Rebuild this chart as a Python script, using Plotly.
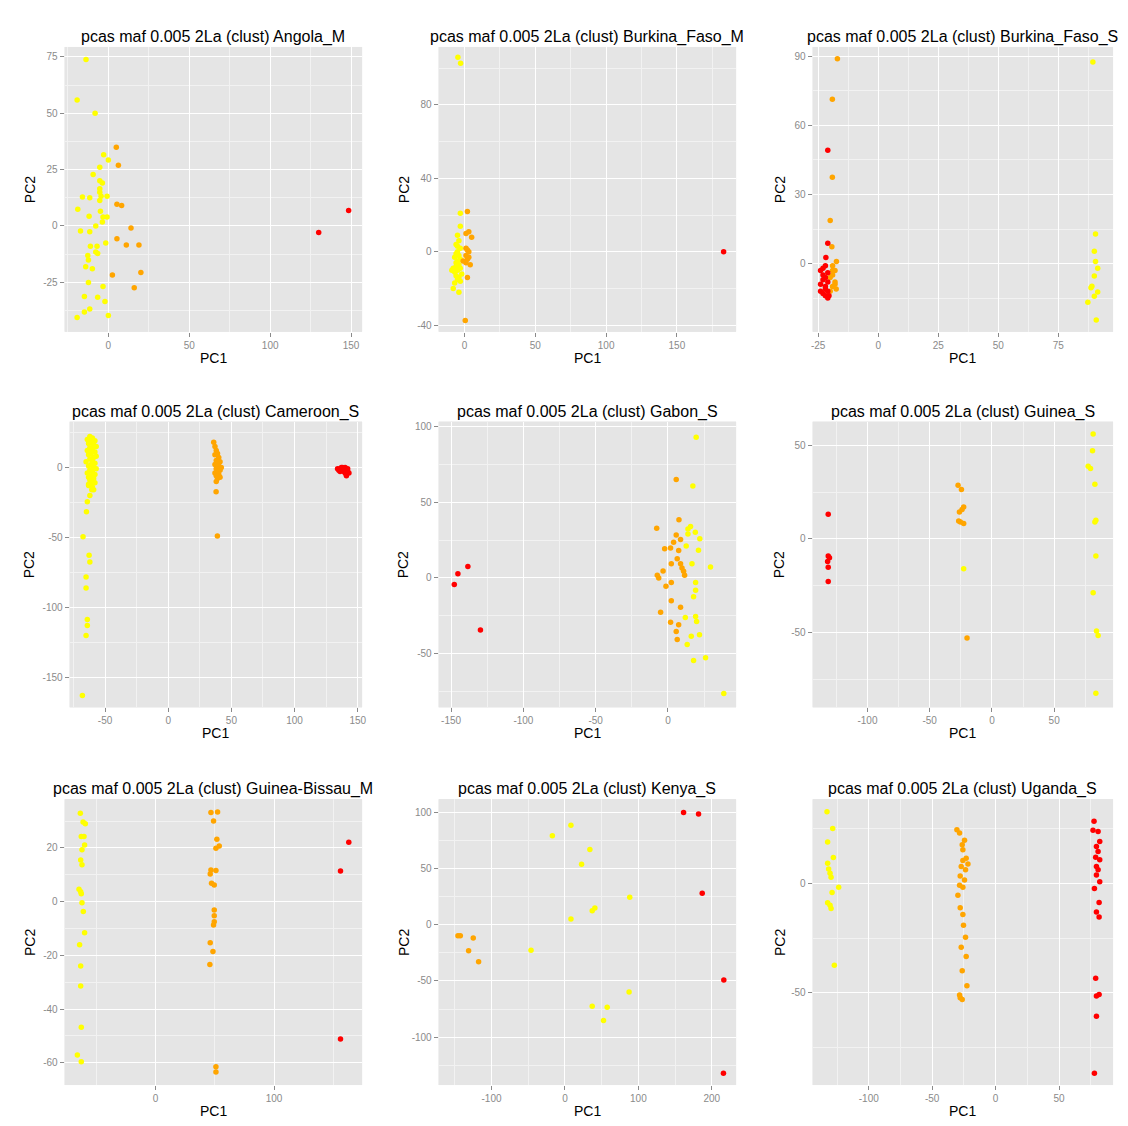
import math
import plotly.graph_objects as go

W, H = 1128, 1126

# ---------------- data (PC1, PC2) per panel and cluster ----------------
titles = [
    "pcas maf 0.005 2La (clust) Angola_M",
    "pcas maf 0.005 2La (clust) Burkina_Faso_M",
    "pcas maf 0.005 2La (clust) Burkina_Faso_S",
    "pcas maf 0.005 2La (clust) Cameroon_S",
    "pcas maf 0.005 2La (clust) Gabon_S",
    "pcas maf 0.005 2La (clust) Guinea_S",
    "pcas maf 0.005 2La (clust) Guinea-Bissau_M",
    "pcas maf 0.005 2La (clust) Kenya_S",
    "pcas maf 0.005 2La (clust) Uganda_S",
]

angola_yellow = [(-13.8, 73.8), (-19.3, 55.9), (-8.2, 50), (-2.9, 31.6), (0, 29.3), (-5.3, 26),
                 (-9.4, 22.8), (-5.3, 20.1), (-3.7, 19.1), (-5.3, 16.5), (-5.3, 15), (-16, 12.8),
                 (-11.5, 12.5), (-4.5, 13.2), (-0.8, 13.2), (-5.3, 11.3), (-18.9, 7.4), (-4.9, 6.5),
                 (-3.3, 4), (-0.8, 4), (-11.9, 4.3), (-7.8, 0), (-3.7, 1.8), (-17.2, -2.2),
                 (-11.5, -2.6), (-1.6, -7.5), (-11.1, -9), (-7.0, -9), (-7.8, -11.5), (-6.6, -12.2),
                 (-12.7, -13.1), (-12.3, -15.1), (-14, -18.1), (-9.9, -19), (-12.3, -25.1),
                 (-3.3, -26.9), (-14.8, -31.3), (-6.6, -31.6), (-2.1, -33.5), (-11.5, -36.8),
                 (-14.8, -38.2), (0, -39.7), (-19.3, -40.6)]
angola_orange = [(4.9, 34.9), (6.2, 26.9), (5.3, 9.6), (8.2, 9.1), (14, -0.9), (5.3, -5.7),
                 (11.1, -8.4), (18.9, -8.4), (2.5, -21.8), (20.1, -20.6), (16, -27.4)]
angola_red = [(130, -2.9), (148.5, 6.9)]

bfm_yellow = [(-4.7, 106), (-2.8, 102.7), (-3, 21), (-3, 14), (-5, 9), (-4, 6), (-6, 4), (-3, 2),
              (-5, 0), (-4, -2), (-7, -3), (-3, -4), (-5, -5), (-6, -6), (-4, -7), (-8, -9),
              (-3, -9), (-5, -10), (-7, -11), (-6, -13), (-4, -14), (-5, -15), (-7, -17),
              (-3, -16), (-8, -20), (-4, -22), (-6, -8), (-2, -12), (-9, -10), (-5, 3), (-6, -1)]
bfm_orange = [(2, 22), (1, 10), (5, 8), (3, 11), (1, 2), (3, 0), (1, -2), (2, -4), (4, -7),
              (1, -6), (2, -14), (-1, -5), (0.5, -37.4), (2, 1), (3, -3)]
bfm_red = [(183, 0)]

bfs_yellow = [(89.4, 87.6), (90.5, 12.9), (90, 5.3), (90.5, 0.9), (91.4, -2), (90, -5.4),
              (89, -9.8), (88.6, -10.5), (91.4, -12.3), (90, -14.2), (87.3, -16.8), (90.8, -24.5)]
bfs_orange = [(-17, 89), (-19.1, 71.4), (-19.1, 37.5), (-20, 18.7), (-19.3, 7.3), (-17.4, 0.9),
              (-19, -1), (-18, -3), (-19, -5), (-20, -6), (-18, -8), (-19, -10), (-17.5, -11),
              (-20, -12), (-19, -3), (-18, -9)]
bfs_red = [(-21, 49.2), (-21, 8.8), (-21.8, 2.6), (-23, -2), (-22, -1), (-24, -3), (-21, -4),
           (-22, -6), (-23, -7), (-21, -8), (-24, -9), (-22, -10), (-21, -12), (-23, -13),
           (-22, -14), (-21, -15), (-23, -5), (-22, -11), (-24, -12), (-20.5, -14)]

cam_yellow = [(-62, 22), (-60, 21), (-64, 20), (-58, 19), (-61, 18), (-63, 17), (-59, 16), (-57, 15),
              (-62, 14), (-60, 13), (-64, 12), (-58, 11), (-61, 10), (-63, 9), (-57, 8), (-59, 7),
              (-62, 6), (-60, 5), (-65, 4), (-58, 3), (-61, 2), (-63, 1), (-59, 0), (-57, -1),
              (-62, -2), (-60, -3), (-64, -4), (-58, -5), (-61, -6), (-63, -7), (-59, -8),
              (-62, -9), (-60, -10), (-58, -11), (-61, -12), (-63, -13), (-60, -14), (-59, -16),
              (-63, -12), (-60.5, -16), (-62, -20), (-64, -24.6), (-64.7, -31.7), (-67.4, -49.6),
              (-62.6, -62.8), (-62, -67.5), (-65, -78.3), (-65, -86.2), (-64, -108.6),
              (-64, -112.9), (-65, -120), (-67.9, -163)]
cam_orange = [(36, 18), (37, 15), (38, 12), (39, 10), (37, 9), (40, 7), (38, 5), (41, 4), (39, 3),
              (37, 2), (40, 1), (42, 0), (38, -1), (41, -2), (39, -3), (37, -4), (40, -5), (38, -6),
              (41, -7), (39, -8), (38, -10), (37.9, -17.4), (38.9, -49)]
cam_red = [(134, -1), (135, -2), (136, -1), (137, 0), (138, -2), (139, -1), (140, 0), (141, -2),
           (142, -3), (140, -4), (141, -5), (139, -3), (142, -1), (143, -4), (141, -6), (136, -3),
           (138, 0)]

gab_yellow = [(19.5, 93), (17.2, 60.7), (15.6, 34), (13.8, 32.3), (18.9, 30.1), (13.8, 29), (22, 25.8),
              (12.6, 21), (21.1, 18.3), (16.6, 9.4), (29.4, 7.2), (19.1, -3), (19.1, -8.1),
              (17.7, -12.4), (12, -26.2), (19.1, -25.5), (19.8, -28.8), (21.8, -37.6), (16.1, -38.6),
              (13.3, -44.1), (26, -52.8), (17.7, -54.6), (38.6, -76.4)]
gab_orange = [(5.7, 65), (-7.8, 32.8), (7.6, 38.4), (5.7, 28.4), (8.7, 25.3), (3.9, 23.6), (1.8, 19.7),
              (-2.3, 19.2), (7.4, 18.1), (6.4, 12.7), (8.7, 9.4), (2.3, 9.4), (9.7, 6.6), (10.8, 4.4),
              (11.5, 1.7), (-3.4, 4.6), (-7.4, 1.7), (-6.4, 0), (2.3, -3), (-1.4, -5.5), (2.3, -15.1),
              (8.7, -19.4), (-5.1, -22.7), (1.8, -29.3), (7.4, -31), (5.7, -35.4), (6.4, -40.8)]
gab_red = [(-147.8, -4.4), (-145.3, 2.8), (-138.4, 7.6), (-129.7, -34.5)]

gui_yellow = [(-22.7, -15.8), (81.3, 55.9), (80.8, 47), (77.3, 38.8), (79.2, 37.5), (82.7, 29.2),
              (82.7, 9.1), (83.5, 10), (83.5, -9.1), (81.3, -28.6), (84, -49), (85.3, -51.4),
              (83.5, -82.2)]
gui_orange = [(-27.2, 28.6), (-24.5, 26.3), (-24, 15.7), (-26.1, 14.4), (-22.7, 17), (-25.3, 9.1),
              (-22.7, 8.2), (-26.7, 9.6), (-20, -52.8)]
gui_red = [(-131.5, 13.2), (-131.5, -9.1), (-130.5, -10), (-132, -12), (-131.5, -15), (-131.5, -22.6)]

gb_yellow = [(-63.3, 32.9), (-61, 29.6), (-59.1, 29), (-62.5, 24.2), (-60.2, 24.2), (-59.7, 21.1),
             (-61.9, 19.3), (-63, 15.5), (-61.9, 13.7), (-64.4, 4.6), (-63, 3.7), (-62.5, 2.9),
             (-61.9, -0.4), (-60.8, -3.7), (-59.7, -11.6), (-63.9, -16.1), (-63, -24), (-63, -31.4),
             (-62.5, -46.8), (-65.8, -57.1), (-62.5, -59.6)]
gb_orange = [(46.8, 33.2), (52.4, 33.4), (49, 30), (51.8, 23.2), (53.8, 20.7), (51, 19.9), (46.8, 11.8),
             (51, 11.6), (46.2, 10.3), (47.3, 6.8), (49.6, 6.2), (49.6, -3.1), (49.6, -5.3),
             (49.6, -7.5), (49, -8.7), (46.2, -15.3), (48.5, -18.6), (45.9, -23.4), (51, -61.5),
             (51, -63.4)]
gb_red = [(163, 22.1), (156, 11.4), (156, -51.2)]

ken_yellow = [(-17.2, 79), (8.1, 88.5), (33.9, 66.8), (22.6, 53.7), (88.2, 24.4), (40.7, 14.9),
              (37.1, 12.5), (8.1, 5.1), (-46.2, -22.7), (87.3, -59.9), (37.1, -72.4), (57.5, -73.3),
              (52.5, -85.2)]
ken_orange = [(-145.7, -9.8), (-142.5, -9.8), (-124.9, -11.9), (-131.2, -23.2), (-117.6, -32.8)]
ken_red = [(161.5, 99.8), (181.9, 98.4), (186.9, 28), (216.3, -49.2), (215.8, -132)]

uga_yellow = [(-132.9, 32.8), (-128.4, 25.1), (-132.4, 18.9), (-127.9, 11.8), (-132.4, 9.2),
              (-131.6, 6.6), (-130.5, 4.6), (-129.7, 2.8), (-123.7, -1.8), (-128.9, -4.2),
              (-132.4, -8.9), (-130.5, -10), (-129.7, -11.5), (-127.1, -37.5)]
uga_orange = [(-30.5, 24.6), (-28.4, 23.1), (-24.5, 19.7), (-26.3, 17.7), (-25.8, 15.4), (-23.2, 11.5),
              (-25.8, 10.5), (-21.8, 8.9), (-27.1, 7.7), (-23.7, 6.2), (-27.9, 3.4), (-24.5, 1.5),
              (-28.4, -0.8), (-25.8, -1.8), (-29.7, -5.4), (-27.9, -11.1), (-25.8, -14.2),
              (-25.3, -19.2), (-23.7, -24.6), (-27.1, -29.2), (-23.2, -33.5), (-26.3, -40),
              (-22.6, -46.9), (-27.9, -52.3), (-26.3, -53.1), (-28.4, -51.1)]
uga_red = [(77.6, 28.5), (76.8, 24.3), (80.8, 23.8), (82.1, 19.2), (79.5, 16.9), (80.8, 14.6),
           (78.9, 12), (82.1, 10.8), (79.5, 7.7), (80.8, 6.2), (79.5, 3.8), (82.1, 0.8), (77.9, -2.3),
           (81.6, -8.8), (79.5, -13.1), (81.6, -15.4), (78.9, -43.4), (79.5, -51.5), (81.6, -50.8),
           (79.5, -60.8), (77.9, -86.9)]

panel_data = [
    (angola_yellow, angola_orange, angola_red),
    (bfm_yellow, bfm_orange, bfm_red),
    (bfs_yellow, bfs_orange, bfs_red),
    (cam_yellow, cam_orange, cam_red),
    (gab_yellow, gab_orange, gab_red),
    (gui_yellow, gui_orange, gui_red),
    (gb_yellow, gb_orange, gb_red),
    (ken_yellow, ken_orange, ken_red),
    (uga_yellow, uga_orange, uga_red),
]

cluster_colors = ["#FFFF00", "#FFA500", "#FF0000"]

# axis ranges and tick spacing per panel
x_ranges = [(-27, 156.8), (-18.3, 191.8), (-27.3, 97.8), (-78, 153.4), (-158.6, 47.1),
            (-144, 97.3), (-76.5, 174.2), (-172, 233), (-144.2, 92.6)]
y_ranges = [(-46.9, 79.4), (-43.5, 111.6), (-29.6, 94.1), (-171.4, 32.7), (-85.6, 103.3),
            (-89.7, 62.5), (-68.3, 38.1), (-142.5, 111.5), (-92.3, 38.5)]
x_dticks = [50, 50, 25, 50, 50, 50, 100, 100, 50]
y_dticks = [25, 40, 30, 50, 50, 50, 20, 50, 50]

# panel boxes in pixels (left, right, top, bottom)
col_px = [(63, 362), (439, 738), (815, 1117)]
col_px_row2 = [(68, 362), (439, 738), (815, 1117)]
row_px = [(46, 331), (421, 707), (799, 1085)]
ylab_px = [28, 404, 782]


def ticks_for(rng, step):
    lo = math.ceil(rng[0] / step) * step
    vals = []
    v = lo
    while v <= rng[1]:
        vals.append(v)
        v += step
    return vals, [str(int(t)) for t in vals]


fig = go.Figure()
annotations = []
shapes = []
layout = {}
for i in range(9):
    r, c = divmod(i, 3)
    x0, x1 = (col_px_row2 if r == 1 else col_px)[c]
    y0, y1 = row_px[r]
    n = "" if i == 0 else str(i + 1)
    xa, ya = "x" + n, "y" + n
    for k, pts in enumerate(panel_data[i]):
        fig.add_trace(go.Scatter(
            x=[p[0] for p in pts], y=[p[1] for p in pts], mode="markers",
            marker=dict(color=cluster_colors[k], size=5.5, line=dict(width=0)),
            xaxis=xa, yaxis=ya, showlegend=False, hoverinfo="x+y"))
    common = dict(showgrid=True, gridcolor="#FFFFFF", gridwidth=1.1, zeroline=False,
                  ticks="outside", ticklen=4, tickcolor="#8A8A8A", tickwidth=1,
                  tickfont=dict(family="Liberation Sans, Arial", size=10, color="#8A8A8A"),
                  showline=False, tickmode="array", fixedrange=True)
    xv, xt = ticks_for(x_ranges[i], x_dticks[i])
    yv, yt = ticks_for(y_ranges[i], y_dticks[i])
    layout["xaxis" + n] = dict(common, domain=[x0 / W, x1 / W], anchor=ya,
                               range=list(x_ranges[i]), tickvals=xv, ticktext=xt,
                               minor=dict(showgrid=True, gridcolor="#F2F2F2", gridwidth=0.6,
                                          tickmode="linear", tick0=0, dtick=x_dticks[i] / 2,
                                          ticks=""))
    layout["yaxis" + n] = dict(common, domain=[1 - y1 / H, 1 - y0 / H], anchor=xa,
                               range=list(y_ranges[i]), tickvals=yv, ticktext=yt,
                               minor=dict(showgrid=True, gridcolor="#F2F2F2", gridwidth=0.6,
                                          tickmode="linear", tick0=0, dtick=y_dticks[i] / 2,
                                          ticks=""))
    cx = (x0 + x1) / 2
    annotations.append(dict(text=titles[i], x=cx / W, y=1 - (y0 - 10) / H, xref="paper", yref="paper",
                            showarrow=False, xanchor="center", yanchor="middle",
                            font=dict(family="Liberation Sans, Arial", size=16, color="#000000")))
    annotations.append(dict(text="PC1", x=cx / W, y=1 - (y1 + 26) / H, xref="paper", yref="paper",
                            showarrow=False, xanchor="center", yanchor="middle",
                            font=dict(family="Liberation Sans, Arial", size=14, color="#000000")))
    annotations.append(dict(text="PC2", x=ylab_px[c] / W, y=1 - ((y0 + y1) / 2) / H, xref="paper",
                            yref="paper", showarrow=False, xanchor="center", yanchor="middle",
                            textangle=-90,
                            font=dict(family="Liberation Sans, Arial", size=14, color="#000000")))
    shapes.append(dict(
        type="rect", xref="paper", yref="paper", x0=x0 / W, x1=x1 / W, y0=1 - y1 / H, y1=1 - y0 / H,
        fillcolor="#E5E5E5", line=dict(width=0), layer="below"))

fig.update_layout(**layout)
fig.update_layout(width=W, height=H, margin=dict(l=0, r=0, t=0, b=0),
                  paper_bgcolor="#FFFFFF", plot_bgcolor="#E5E5E5",
                  annotations=annotations, shapes=shapes, showlegend=False)
fig.write_html("out.html")
